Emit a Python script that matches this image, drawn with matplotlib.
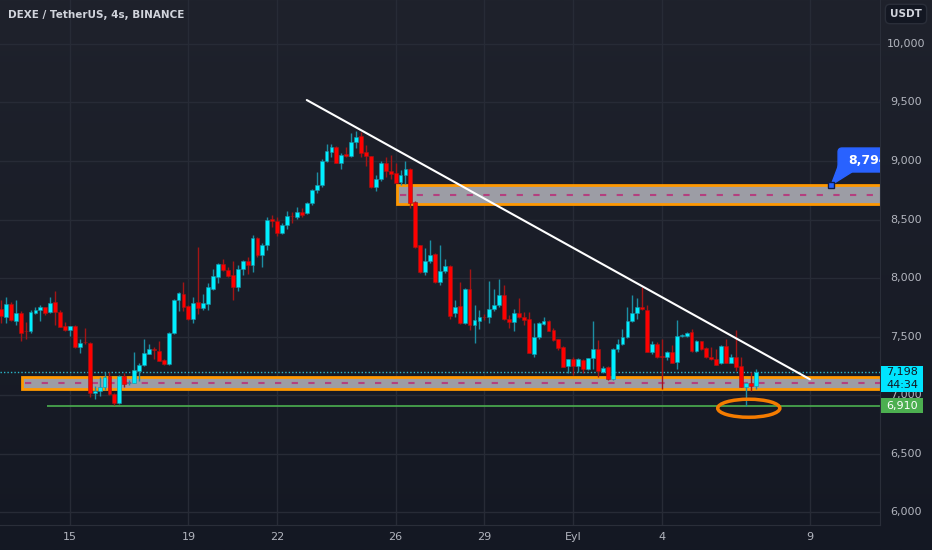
import numpy as np
import matplotlib
matplotlib.use('Agg')
import matplotlib.pyplot as plt
from matplotlib.patches import Rectangle, Ellipse, FancyBboxPatch, Polygon
from matplotlib.transforms import blended_transform_factory
from matplotlib.colors import LinearSegmentedColormap

# DEXE/USDT 4h candles, index 0 = 15 Aug 00:00 (6 candles per day)
first_idx = -14
opens = [7735, 7666, 7778, 7632, 7700, 7550, 7547, 7700, 7726, 7752,
         7709, 7795, 7709, 7590, 7556, 7590, 7411, 7455, 7445, 7017,
         7034, 7068, 7162, 7008, 6931, 7162, 7100, 7103, 7205, 7257,
         7350, 7393, 7376, 7299, 7265, 7530, 7812, 7863, 7760, 7649,
         7795, 7743, 7778, 7906, 8008, 8120, 8068, 8025, 7923, 8077,
         8145, 8111, 8342, 8197, 8282, 8505, 8488, 8385, 8453, 8532,
         8522, 8565, 8556, 8641, 8752, 8795, 9000, 9077, 9120, 8983,
         9060, 9043, 9162, 9214, 9077, 9043, 8778, 8846, 8983, 8914,
         8897, 8820, 8880, 8932, 8650, 8282, 8051, 8145, 8205, 7966,
         8060, 8103, 7700, 7760, 7615, 7906, 7598, 7632, 7670, 7666,
         7735, 7769, 7855, 7649, 7624, 7700, 7666, 7649, 7350, 7496,
         7610, 7632, 7556, 7479, 7411, 7248, 7308, 7248, 7299, 7222,
         7316, 7393, 7197, 7240, 7137, 7393, 7436, 7496, 7632, 7700,
         7752, 7726, 7368, 7436, 7330, 7325, 7368, 7282, 7505, 7505,
         7540, 7376, 7462, 7402, 7325, 7308, 7274, 7419, 7274, 7325,
         7248, 7068, 7103, 7077]
highs = [7812, 7837, 7795, 7812, 7717, 7624, 7726, 7752, 7769, 7755,
         7837, 7889, 7726, 7624, 7592, 7598, 7479, 7573, 7450, 7077,
         7154, 7197, 7197, 7017, 7170, 7188, 7128, 7368, 7274, 7479,
         7436, 7410, 7462, 7308, 7540, 7820, 7880, 7966, 7769, 7837,
         8265, 7863, 7957, 8077, 8128, 8163, 8094, 8145, 8111, 8150,
         8180, 8368, 8350, 8299, 8522, 8539, 8522, 8470, 8573, 8565,
         8607, 8600, 8650, 8760, 8906, 9017, 9145, 9145, 9128, 9068,
         9120, 9239, 9256, 9248, 9137, 9045, 8880, 9000, 9034, 9051,
         8983, 8923, 9000, 8940, 8660, 8285, 8256, 8325, 8214, 8282,
         8163, 8111, 7812, 7966, 7915, 8077, 7769, 7726, 7692, 7974,
         7906, 7991, 7940, 7683, 7735, 7829, 7709, 7709, 7615, 7620,
         7666, 7641, 7573, 7482, 7415, 7312, 7325, 7316, 7308, 7320,
         7632, 7470, 7248, 7245, 7402, 7479, 7564, 7752, 7855, 7829,
         7923, 7769, 7462, 7453, 7479, 7376, 7430, 7641, 7520, 7540,
         7564, 7470, 7465, 7410, 7410, 7393, 7428, 7479, 7350, 7556,
         7325, 7111, 7197, 7222]
lows = [7615, 7615, 7630, 7598, 7462, 7479, 7530, 7695, 7632, 7683,
        7700, 7598, 7581, 7547, 7505, 7402, 7359, 7436, 6983, 6966,
        6992, 7043, 7000, 6914, 6925, 7068, 7085, 7100, 7120, 7248,
        7350, 7308, 7291, 7257, 7257, 7525, 7717, 7717, 7641, 7615,
        7692, 7726, 7726, 7900, 7957, 8060, 8008, 7812, 7889, 8025,
        8034, 8051, 8180, 8094, 8239, 8436, 8359, 8376, 8419, 8470,
        8505, 8522, 8547, 8624, 8726, 8778, 8995, 9034, 8980, 8930,
        9034, 9034, 9111, 9034, 8957, 8770, 8743, 8830, 8863, 8846,
        8810, 8795, 8803, 8598, 8260, 8043, 8025, 8128, 7957, 7940,
        8043, 7649, 7666, 7610, 7610, 7556, 7445, 7564, 7641, 7615,
        7717, 7752, 7645, 7573, 7547, 7660, 7598, 7355, 7325, 7475,
        7598, 7545, 7462, 7385, 7236, 7188, 7171, 7197, 7188, 7214,
        7222, 7154, 7188, 7130, 7128, 7368, 7430, 7490, 7625, 7649,
        7726, 7365, 7350, 7320, 7051, 7299, 7270, 7222, 7498, 7500,
        7368, 7368, 7385, 7316, 7299, 7255, 7265, 7270, 7270, 7205,
        7065, 6910, 7034, 7051]
closes = [7675, 7778, 7641, 7700, 7530, 7545, 7709, 7726, 7752, 7700,
          7786, 7709, 7581, 7556, 7590, 7411, 7445, 7450, 7017, 7034,
          7068, 7154, 7008, 6931, 7162, 7094, 7105, 7214, 7257, 7359,
          7393, 7388, 7291, 7265, 7530, 7812, 7872, 7752, 7649, 7786,
          7743, 7786, 7923, 8017, 8120, 8068, 8017, 7923, 8077, 8145,
          8111, 8342, 8197, 8282, 8496, 8488, 8385, 8453, 8530, 8526,
          8565, 8539, 8641, 8752, 8795, 9000, 9085, 9120, 8983, 9051,
          9043, 9162, 9205, 9068, 9043, 8778, 8846, 8983, 8914, 8889,
          8812, 8880, 8932, 8641, 8265, 8051, 8145, 8197, 7966, 8060,
          8103, 7675, 7752, 7615, 7906, 7598, 7641, 7666, 7663, 7735,
          7769, 7855, 7649, 7624, 7700, 7666, 7641, 7359, 7496, 7615,
          7632, 7547, 7470, 7402, 7240, 7308, 7248, 7308, 7222, 7316,
          7393, 7205, 7231, 7137, 7393, 7436, 7496, 7632, 7700, 7752,
          7735, 7368, 7436, 7325, 7322, 7368, 7274, 7505, 7512, 7530,
          7376, 7462, 7393, 7325, 7308, 7257, 7419, 7274, 7325, 7240,
          7068, 7103, 7077, 7198]

# x-axis ticks (candle index) and labels
tick_pos = [0, 24, 42, 66, 84, 102, 120, 150]
tick_lab = ['15', '19', '22', '26', '29', 'Eyl', '4', '9']
price_ticks = [6000, 6500, 7000, 7500, 8000, 8500, 9000, 9500, 10000]

# drawings
zone_low = [7051, 8632]
zone_high = [7154, 8795]
zone_start = [-9.7, 66.3]
trend_x = [48.0, 150.0]
trend_y = [9521, 7134]
support = 6910
last_price = 7198
callout_price = 8794

opens = np.array(opens); highs = np.array(highs)
lows = np.array(lows); closes = np.array(closes)
idx = np.arange(first_idx, first_idx + len(opens))

fig = plt.figure(figsize=(9.32, 5.5), dpi=100)
bg = fig.add_axes([0, 0, 1, 1], zorder=-10)
cmap = LinearSegmentedColormap.from_list('bg', ['#1f222c', '#141823'])
bg.imshow(np.linspace(0, 1, 256).reshape(-1, 1), aspect='auto', cmap=cmap,
          extent=[0, 1, 0, 1])
bg.axis('off')

ax = fig.add_axes([0, 25 / 550, 880 / 932, 525 / 550])
ax.patch.set_alpha(0)
ax.set_xlim(-14.19, 164.2)
ax.set_ylim(5889, 10376)
for s in ['left', 'top']:
    ax.spines[s].set_visible(False)
for s in ['bottom', 'right']:
    ax.spines[s].set_color('#2a2e39')
ax.set_xticks([]); ax.set_yticks([])

# grid
for p in price_ticks:
    ax.axhline(p, color='#272b36', lw=1, zorder=0)
for t in tick_pos:
    ax.axvline(t, color='#272b36', lw=1, zorder=0)

# zones
for lo, hi, x0 in zip(zone_low, zone_high, zone_start):
    ax.add_patch(Rectangle((x0, lo), 300, hi - lo, fc='#9c9da5', ec='#ff9800',
                           lw=2, zorder=2))
    ax.hlines((lo + hi) / 2, x0 + 0.5, 200, color='#b4407f', lw=1.5,
              ls=(0, (3, 5)), zorder=2)

# candles
up = closes >= opens
body_c = np.where(up, '#00f0ff', '#ff0000')
wick_c = np.where(up, '#1c8ea3', '#a31515')
ax.vlines(idx, lows, highs, colors=wick_c, lw=1, zorder=3)
bottoms = np.minimum(opens, closes)
heights = np.maximum(np.abs(closes - opens), 6)
ax.bar(idx, heights, bottom=bottoms, width=0.78, color=body_c,
       edgecolor=wick_c, lw=0.4, zorder=4)

# last price dotted line, support line
ax.axhline(last_price, color='#2ab7ca', lw=1, ls=(0, (1, 1.5)), zorder=1)
ax.hlines(support, -4.66, 200, color='#4caf50', lw=1.2, zorder=2)

# trendline
ax.plot(trend_x, trend_y, color='white', lw=1.5, zorder=5, solid_capstyle='round')

# orange ellipse
ax.add_patch(Ellipse((137.6, 6887), 12.6, 154, fill=False, ec='#f57c00',
                     lw=2.5, zorder=6))

# blue callout
ax.add_patch(FancyBboxPatch((155.7, 8906), 20, 205,
                            boxstyle='round,pad=0,rounding_size=0.8',
                            mutation_aspect=42, fc='#2962ff', ec='#2962ff',
                            zorder=7))
ax.add_patch(Polygon([[155.9, 8974], [158.5, 8906], [154.3, 8795]],
                     closed=True, fc='#2962ff', ec='#2962ff', zorder=7))
ax.plot([154.2], [callout_price], marker='s', ms=4, mfc='#2962ff',
        mec='#0d1b4a', zorder=8)
ax.text(157.7, 9008, f'{callout_price:,}', color='white', fontsize=9,
        fontweight='bold', va='center', ha='left', zorder=8, clip_on=True)

# right price axis
tr = blended_transform_factory(fig.transFigure, ax.transData)
for p in price_ticks:
    ax.text(906 / 932, p, f'{p:,}', transform=tr, color='#b2b5be', fontsize=8,
            ha='center', va='center', clip_on=False, zorder=1)
ax.add_patch(Rectangle((881 / 932, 7026), 42 / 932, 222, transform=tr,
                       fc='#00e5ff', ec='none', clip_on=False, zorder=9))
ax.text(902 / 932, last_price, f'{last_price:,}', transform=tr, color='#131722',
        fontsize=8, ha='center', va='center', clip_on=False, zorder=10)
ax.text(902 / 932, 7085, '44:34', transform=tr, color='#131722',
        fontsize=8, ha='center', va='center', clip_on=False, zorder=10)
ax.add_patch(Rectangle((881 / 932, 6846), 42 / 932, 128, transform=tr,
                       fc='#4caf50', ec='none', clip_on=False, zorder=9))
ax.text(902 / 932, support, f'{support:,}', transform=tr, color='white',
        fontsize=8, ha='center', va='center', clip_on=False, zorder=10)

# bottom time axis
trx = blended_transform_factory(ax.transData, fig.transFigure)
for t, l in zip(tick_pos, tick_lab):
    ax.text(t, 1 - 537 / 550, l, transform=trx, color='#b2b5be', fontsize=8,
            ha='center', va='center', clip_on=False)

fig.text(8 / 932, 1 - 15 / 550, 'DEXE / TetherUS, 4s, BINANCE', color='#d1d4dc',
         fontsize=7.5, fontweight='bold', ha='left', va='center')
fig.text(906 / 932, 1 - 14 / 550, 'USDT', color='#d1d4dc', fontsize=7.5,
         fontweight='bold', ha='center', va='center',
         bbox=dict(boxstyle='round,pad=0.45', fc='#131722', ec='#2a2e39'))

fig.savefig('out.png', dpi=100)
